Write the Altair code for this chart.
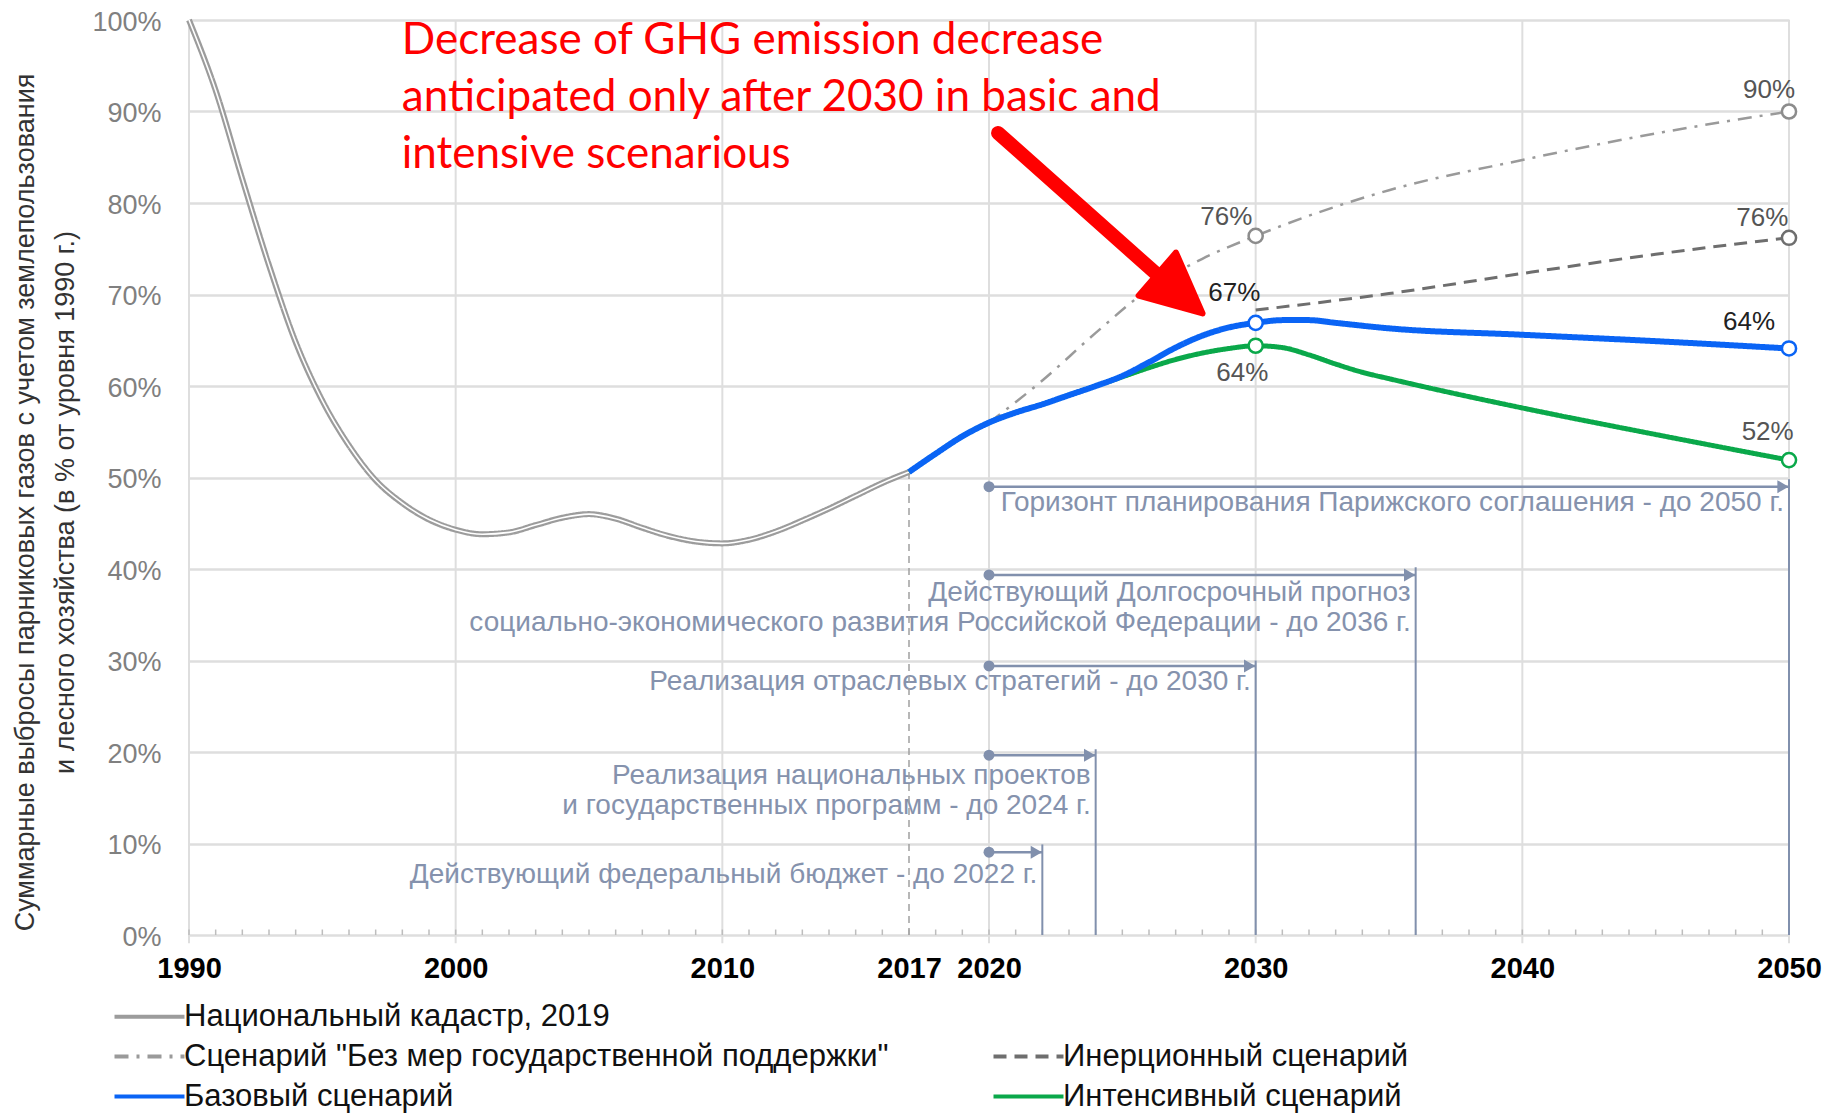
import altair as alt
import pandas as pd

# ---------------- data ----------------
hist_years = [1990, 1991, 1992, 1993, 1994, 1995, 1996, 1997, 1998, 1999, 2000, 2001, 2002, 2003,
              2004, 2005, 2006, 2007, 2008, 2009, 2010, 2011, 2012, 2013, 2014, 2015, 2016, 2017]
hist_vals = [100.0, 92.3, 82.6, 73.2, 64.8, 58.4, 53.5, 49.7, 47.2, 45.4, 44.3, 43.8, 44.0, 44.8,
             45.6, 46.0, 45.5, 44.5, 43.6, 43.0, 42.8, 43.2, 44.1, 45.3, 46.6, 48.0, 49.4, 50.6]

basic_years = [2017, 2018, 2019, 2020, 2021, 2022, 2023, 2024, 2025, 2026, 2027, 2028, 2029, 2030,
               2031, 2032, 2033, 2035, 2040, 2045, 2050]
basic_vals = [50.6, 52.6, 54.5, 56.0, 57.1, 58.0, 59.0, 60.0, 61.1, 62.6, 64.2, 65.5, 66.4, 66.9,
              67.2, 67.2, 66.9, 66.3, 65.6, 64.9, 64.1]

intens_years = [2017, 2018, 2019, 2020, 2021, 2022, 2023, 2024, 2025, 2026, 2027, 2028, 2029, 2030,
                2031, 2032, 2033, 2034, 2035, 2040, 2045, 2050]
intens_vals = [50.6, 52.6, 54.5, 56.0, 57.1, 58.0, 59.0, 60.0, 61.0, 62.0, 62.9, 63.6, 64.1, 64.4,
               64.2, 63.4, 62.4, 61.5, 60.8, 57.6, 54.7, 51.9]

nomeas_years = [2020, 2022, 2024, 2026, 2028, 2030, 2035, 2040, 2045, 2050]
nomeas_vals = [56.0, 60.6, 65.8, 70.6, 73.9, 76.4, 81.4, 84.7, 87.6, 90.0]

inert_years = [2030, 2035, 2040, 2045, 2050]
inert_vals = [68.3, 70.1, 72.3, 74.4, 76.2]

S_CAD = "Национальный кадастр, 2019"
S_BLANK = " "
S_NOM = 'Сценарий "Без мер государственной поддержки"'
S_INE = "Инерционный сценарий"
S_BAS = "Базовый сценарий"
S_INT = "Интенсивный сценарий"
# legend fills column by column: left column first, then right column
series_order = [S_CAD, S_NOM, S_BAS, S_BLANK, S_INE, S_INT]
series_colors = ["#9c9c9c", "#9a9a9a", "#0a64f5", "rgba(0,0,0,0)", "#6e6e6e", "#0aa84a"]
series_dashes = [[1, 0], [14, 8, 3, 8], [1, 0], [1, 0], [13, 8], [1, 0]]

marker_years = [2030, 2050, 2050, 2030, 2050, 2030, 2050]
marker_vals = [76.4, 90.0, 76.2, 66.9, 64.1, 64.4, 51.9]
marker_cols = ["#8c8c8c", "#8c8c8c", "#6e6e6e", "#0a64f5", "#0a64f5", "#0aa84a", "#0aa84a"]

label_texts = ["76%", "90%", "76%", "67%", "64%", "64%", "52%"]
label_x = [2028.9, 2049.25, 2049.0, 2029.2, 2048.5, 2029.5, 2049.2]
label_y = [78.5, 92.35, 78.4, 70.2, 67.0, 61.4, 55.0]
label_cols = ["#555555", "#555555", "#555555", "#222222", "#222222", "#555555", "#555555"]

prog_texts = [
    "Горизонт планирования Парижского соглашения - до 2050 г.",
    "Действующий Долгосрочный прогноз\nсоциально-экономического развития Российской Федерации - до 2036 г.",
    "Реализация отраслевых стратегий - до 2030 г.",
    "Реализация национальных проектов\nи государственных программ - до 2024 г.",
    "Действующий федеральный бюджет - до 2022 г.",
]
prog_start = [2020, 2020, 2020, 2020, 2020]
prog_end = [2050, 2036, 2030, 2024, 2022]
prog_level = [49.0, 39.35, 29.4, 19.65, 9.05]
prog_vtop = [49.8, 40.2, 30.0, 20.3, 9.9]
prog_text_y = [47.2, 37.4, 27.7, 17.4, 6.6]

grid_years = [1990, 2000, 2010, 2020, 2030, 2040, 2050]
minor_years = [1990 + i for i in range(61)]
x_label_years = [1990, 2000, 2010, 2017, 2020, 2030, 2040, 2050]
y_tick_vals = [0, 10, 20, 30, 40, 50, 60, 70, 80, 90, 100]

ann_text = "Decrease of GHG emission decrease\nanticipated only after 2030 in basic and\nintensive scenarious"
ann_x = [1997.98]
ann_y = [96.3]
arrow_x = [2020.34]
arrow_x2 = [2026.22]
arrow_y = [87.65]
arrow_y2 = [72.4]
head_x = [2027.16]
head_y = [70.08]

# ---------------- frames ----------------
def frame(years, vals, name):
    return pd.DataFrame({"year": years, "pct": vals, "series": name})

df_hist = frame(hist_years, hist_vals, S_CAD)
df_basic = frame(basic_years, basic_vals, S_BAS)
df_int = frame(intens_years, intens_vals, S_INT)
df_nom = frame(nomeas_years, nomeas_vals, S_NOM)
df_ine = frame(inert_years, inert_vals, S_INE)
df_mark = pd.DataFrame({"year": marker_years, "pct": marker_vals, "col": marker_cols})
df_lab = pd.DataFrame({"year": label_x, "pct": label_y, "txt": label_texts, "col": label_cols})
df_prog = pd.DataFrame({"start": prog_start, "end": prog_end, "level": prog_level,
                        "vtop": prog_vtop, "ty": prog_text_y, "txt": prog_texts})
df_grid = pd.DataFrame({"year": grid_years})
df_minor = pd.DataFrame({"year": minor_years})
df_ann = pd.DataFrame({"year": ann_x, "pct": ann_y, "txt": [ann_text]})
df_arrow = pd.DataFrame({"year": arrow_x, "year2": arrow_x2, "pct": arrow_y, "pct2": arrow_y2})
df_head = pd.DataFrame({"year": head_x, "pct": head_y})

FONT = "Liberation Sans"
X_SCALE = alt.Scale(domain=[1990, 2050], nice=False, zero=False)
Y_SCALE = alt.Scale(domain=[0, 100], nice=False, zero=False)

x_axis = alt.Axis(values=x_label_years, format="d", grid=False, ticks=False, domain=False,
                  labelFont=FONT, labelFontSize=29, labelFontWeight="bold", labelColor="#000000",
                  labelPadding=19, labelFlush=False, labelOverlap=False, title=None)
y_axis = alt.Axis(values=y_tick_vals, labelExpr="datum.value + '%'", grid=True, gridColor="#dedede",
                  gridWidth=2.5, ticks=False, domain=False, labelFont=FONT, labelFontSize=27,
                  labelOffset=2, labelColor="#808080", labelPadding=28,
                  title=["Суммарные выбросы парниковых газов с учетом землепользования",
                         "и лесного хозяйства (в % от уровня 1990 г.)"],
                  titleFont=FONT, titleFontSize=27, titleFontWeight="normal", titleColor="#333333",
                  titleX=-164, titleY=482, titleAngle=270, titleAlign="center", titleBaseline="middle",
                  titleLineHeight=40, titleLimit=3000)

X = alt.X("year:Q", scale=X_SCALE, axis=x_axis)
Y = alt.Y("pct:Q", scale=Y_SCALE, axis=y_axis)

legend = alt.Legend(
    orient="none", legendX=-55, legendY=981, columns=2, title=None,
    symbolType="M-5,0L5,0", symbolSize=196, symbolStrokeWidth=4,
    labelFont=FONT, labelFontSize=31, labelColor="#111111", labelLimit=0, labelOffset=19,
    rowPadding=8, columnPadding=96, padding=0, offset=0,
)
COLOR = alt.Color("series:N", scale=alt.Scale(domain=series_order, range=series_colors), legend=legend)
DASH = alt.StrokeDash("series:N", scale=alt.Scale(domain=series_order, range=series_dashes), legend=legend)


def series_line(df, width):
    return alt.Chart(df).mark_line(interpolate="monotone", strokeWidth=width).encode(
        x=X, y=Y, color=COLOR, strokeDash=DASH)


vgrid = alt.Chart(df_grid).mark_rule(color="#dedede", strokeWidth=2).encode(
    x=X, y=alt.datum(-0.9), y2=alt.datum(100))
minor = alt.Chart(df_minor).mark_rule(color="#bdbdbd", strokeWidth=1.5).encode(
    x=X, y=alt.datum(0), y2=alt.datum(0.6))

PC = "#8190ad"
prog_v = alt.Chart(df_prog).mark_rule(color=PC, strokeWidth=2).encode(
    x=alt.X("end:Q", scale=X_SCALE), y=alt.Y("vtop:Q", scale=Y_SCALE), y2=alt.datum(0))
prog_h = alt.Chart(df_prog).mark_rule(color=PC, strokeWidth=2.5).encode(
    x=alt.X("start:Q", scale=X_SCALE), x2="end:Q", y=alt.Y("level:Q", scale=Y_SCALE))
prog_dot = alt.Chart(df_prog).mark_circle(color=PC, size=120, opacity=1).encode(
    x=alt.X("start:Q", scale=X_SCALE), y=alt.Y("level:Q", scale=Y_SCALE))
prog_head = alt.Chart(df_prog).mark_point(shape="triangle-right", filled=True, color=PC, size=170,
                                          opacity=1, xOffset=-6).encode(
    x=alt.X("end:Q", scale=X_SCALE), y=alt.Y("level:Q", scale=Y_SCALE))
prog_txt = alt.Chart(df_prog).mark_text(align="right", baseline="middle", dx=-5, font=FONT, fontSize=28,
                                        color="#8592ad", lineBreak="\n", lineHeight=30).encode(
    x=alt.X("end:Q", scale=X_SCALE), y=alt.Y("ty:Q", scale=Y_SCALE), text="txt:N")

line2017 = alt.Chart(df_hist).transform_filter("datum.year == 2017").mark_rule(
    color="#a0a0a0", strokeWidth=1.5, strokeDash=[7, 5]).encode(x=X, y=Y, y2=alt.datum(0))

cad_outer = series_line(df_hist, 6)
cad_inner = alt.Chart(df_hist).mark_line(interpolate="monotone", strokeWidth=1.6, color="white").encode(x=X, y=Y)
nom_line = series_line(df_nom, 2.5)
ine_line = series_line(df_ine, 3)
int_line = series_line(df_int, 5)
bas_line = series_line(df_basic, 6)

markers = alt.Chart(df_mark).mark_point(shape="circle", filled=False, fill="white", fillOpacity=1,
                                       size=200, strokeWidth=2.5, opacity=1).encode(
    x=X, y=Y, stroke=alt.Stroke("col:N", scale=None))
labels = alt.Chart(df_lab).mark_text(font=FONT, fontSize=26, align="center", baseline="middle").encode(
    x=X, y=Y, text="txt:N", color=alt.Color("col:N", scale=None))

ann = alt.Chart(df_ann).mark_text(align="left", baseline="alphabetic", font="Lato", fontSize=44,
                                  color="#ff0000", lineBreak="\n", lineHeight=57).encode(
    x=X, y=Y, text="txt:N")
shaft = alt.Chart(df_arrow).mark_rule(color="#ff0000", strokeWidth=14, strokeCap="round").encode(
    x=X, x2="year2:Q", y=Y, y2="pct2:Q")
head = alt.Chart(df_head).mark_point(shape="M1,0L-1,-0.95L-1,0.95Z", filled=True, color="#ff0000",
                                     size=3600, angle=41, opacity=1, stroke="#ff0000", strokeWidth=6,
                                     strokeJoin="round").encode(x=X, y=Y)

chart = alt.layer(
    vgrid, minor, prog_v, prog_h, prog_dot, prog_head, prog_txt, line2017,
    cad_outer, cad_inner, nom_line, ine_line, int_line, bas_line,
    markers, labels, ann, shaft, head,
).properties(
    width=1600, height=915,
    autosize=alt.AutoSizeParams(type="none"),
    padding={"left": 181, "top": 12, "right": 44, "bottom": 178},
    background="white",
).configure_view(stroke=None)

chart.save("out.html", embed_options={"renderer": "svg", "actions": False})
